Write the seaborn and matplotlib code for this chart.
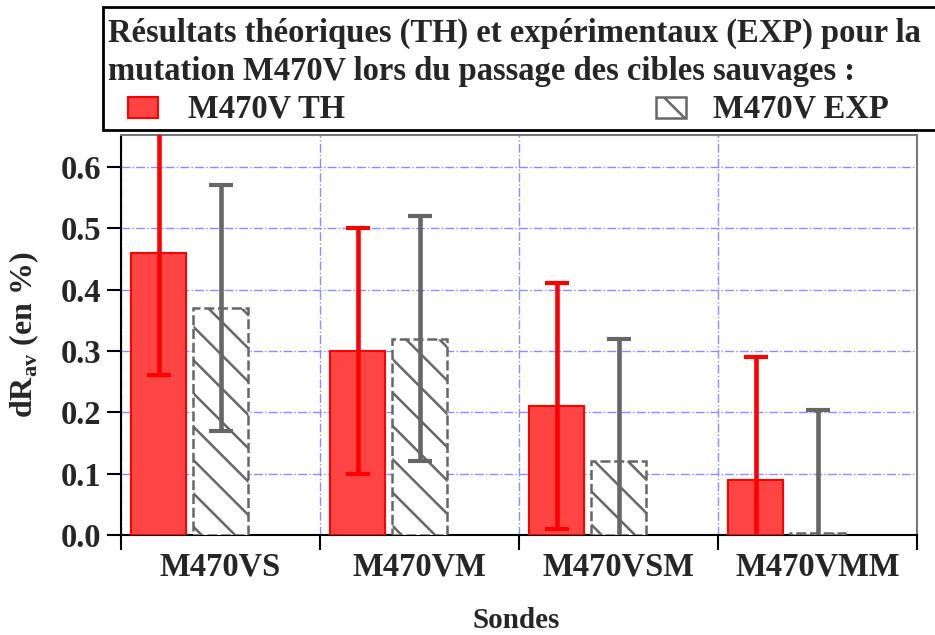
"""
plot.py — dRav bar chart, theoretical vs experimental results for M470V.
"""

import numpy as np
import pandas as pd
import matplotlib
matplotlib.use("Agg")
import matplotlib.pyplot as plt
from matplotlib.patches import Rectangle
from matplotlib.ticker import FixedLocator
import seaborn as sns

# ---------------------------------------------------------------------------
# Data
# ---------------------------------------------------------------------------
PROBES = ["M470VS", "M470VM", "M470VSM", "M470VMM"]
TH_VALUES = [0.46, 0.30, 0.21, 0.09]
TH_ERR = [0.20, 0.20, 0.20, 0.20]
EXP_VALUES = [0.37, 0.32, 0.12, 0.003]
EXP_ERR = [0.20, 0.20, 0.20, 0.20]
SERIES = ["M470V TH", "M470V EXP"]
Y_TICKS = [0.0, 0.1, 0.2, 0.3, 0.4, 0.5, 0.6]

TITLE_LINES = [
    "Résultats théoriques (TH) et expérimentaux (EXP) pour la",
    "mutation M470V lors du passage des cibles sauvages :",
]

# ---------------------------------------------------------------------------
# Style
# ---------------------------------------------------------------------------
sns.set_theme(style="white")
plt.rcParams.update({
    "font.family": ["Liberation Serif", "DejaVu Serif"],
    "font.weight": "bold",
    "mathtext.fontset": "custom",
    "mathtext.rm": "Liberation Serif:bold",
    "mathtext.bf": "Liberation Serif:bold",
    "hatch.linewidth": 1.8,
})

RED = "#ff0000"
RED_FILL = "#ff4444"
GREY = "#666666"
GRID = "#8c8cff"
FS = 23.5

df = pd.DataFrame({
    "Sonde": PROBES * 2,
    "dRav": TH_VALUES + EXP_VALUES,
    "Serie": [SERIES[0]] * len(PROBES) + [SERIES[1]] * len(PROBES),
})

fig = plt.figure(figsize=(9.35, 6.35), dpi=100)
ax = fig.add_axes([121 / 935, 100 / 635, (917 - 121) / 935, 400 / 635])

# third (empty) hue level keeps the two bars on the left of each group
sns.barplot(
    data=df, x="Sonde", y="dRav", hue="Serie", order=PROBES,
    hue_order=SERIES + ["pad"], width=0.93, gap=0.11, errorbar=None,
    saturation=1,
    palette={SERIES[0]: RED_FILL, SERIES[1]: "white", "pad": "white"},
    legend=False, ax=ax,
)

th_bars, exp_bars = ax.containers[0], ax.containers[1]
for p in th_bars:
    p.set_facecolor(RED_FILL)
    p.set_edgecolor(RED)
    p.set_linewidth(1.5)
    p.set_zorder(3)
for p in exp_bars:
    p.set_facecolor("white")
    p.set_edgecolor(GREY)
    p.set_hatch("\\")
    p.set_linewidth(1.8)
    p.set_linestyle((0, (4, 1.5)))
    p.set_zorder(3)

# error bars at the bar centres
for bars, vals, errs, col in [(th_bars, TH_VALUES, TH_ERR, RED),
                              (exp_bars, EXP_VALUES, EXP_ERR, GREY)]:
    xs = [p.get_x() + p.get_width() / 2 for p in bars]
    ax.errorbar(xs, vals, yerr=errs, fmt="none", ecolor=col,
                elinewidth=3.3, capsize=8.5, capthick=3, zorder=4)

# axes, ticks, grid
ax.set_xlim(-0.5, 3.5)
ax.set_ylim(0, 0.652)
ax.set_yticks(Y_TICKS)
ax.set_yticklabels([f"{v:.1f}" for v in Y_TICKS], fontsize=FS, fontweight="bold")
ax.set_xticks(range(len(PROBES)))
ax.set_xticklabels(PROBES, fontsize=FS, fontweight="bold")
ax.xaxis.set_minor_locator(FixedLocator(np.arange(-0.5, 4, 1.0)))

ax.tick_params(axis="x", which="major", length=0, pad=12)
ax.tick_params(axis="x", which="minor", direction="out", length=11,
               width=1.5, color="black", bottom=True)
ax.tick_params(axis="y", direction="out", length=10, width=1.5,
               color="black", left=True, pad=4)

ax.set_axisbelow(True)
ax.grid(False)
ax.grid(True, which="minor", axis="x", color=GRID, linestyle="-.", linewidth=1)
ax.grid(True, which="major", axis="y", color=GRID, linestyle="-.", linewidth=1)

for side in ["left", "bottom"]:
    ax.spines[side].set_color("black")
    ax.spines[side].set_linewidth(1.5)
for side in ["top", "right"]:
    ax.spines[side].set_color("#777777")
    ax.spines[side].set_linewidth(1.5)

ax.set_xlabel("Sondes", fontsize=21, fontweight="bold")
ax.xaxis.set_label_coords(0.497, -0.18)
ax.set_ylabel("dR$_{\\mathrm{av}}$ (en %)", fontsize=23, fontweight="bold")
ax.yaxis.set_label_coords(-0.101, 0.5)

# ---------------------------------------------------------------------------
# Legend box (drawn by hand, spans the top of the figure)
# ---------------------------------------------------------------------------
W, H = 935, 635
fig.patches.append(Rectangle((103 / W, 1 - 130 / H), 880 / W, 123 / H,
                             transform=fig.transFigure, facecolor="white",
                             edgecolor="black", linewidth=2, zorder=0))
fig.text(108 / W, 1 - 42 / H, TITLE_LINES[0], fontsize=FS,
         fontweight="bold", va="baseline")
fig.text(108 / W, 1 - 80 / H, TITLE_LINES[1], fontsize=FS,
         fontweight="bold", va="baseline")

fig.patches.append(Rectangle((128 / W, 1 - 118 / H), 30 / W, 21 / H,
                             transform=fig.transFigure, facecolor=RED_FILL,
                             edgecolor=RED, linewidth=1.5))
fig.text(188 / W, 1 - 117 / H, SERIES[0], fontsize=FS, fontweight="bold",
         va="baseline")
fig.patches.append(Rectangle((656 / W, 1 - 118 / H), 30 / W, 21 / H,
                             transform=fig.transFigure, facecolor="white",
                             edgecolor=GREY, hatch="\\", linewidth=1.8))
fig.text(713 / W, 1 - 117 / H, SERIES[1], fontsize=FS, fontweight="bold",
         va="baseline")

fig.savefig("out.png", dpi=100, facecolor="white")
plt.close(fig)
